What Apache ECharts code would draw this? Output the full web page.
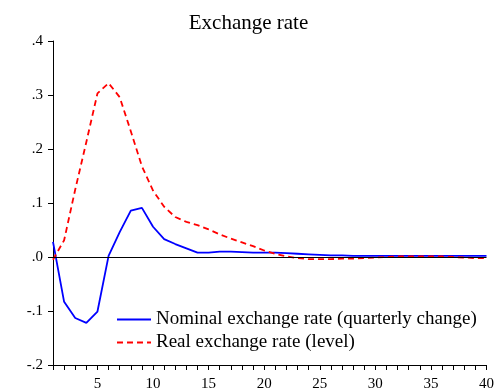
<!DOCTYPE html>
<html>
<head>
<meta charset="utf-8">
<title>Exchange rate</title>
<script src="https://cdn.jsdelivr.net/npm/echarts@6/dist/echarts.min.js"></script>
<style>
  html, body { margin: 0; padding: 0; background: #fff; }
  #chart { width: 497px; height: 392px; }
</style>
</head>
<body>
<div id="chart"></div>
<script>
// quarters 1..40
var quarters = [];
for (var q = 1; q <= 40; q++) quarters.push(q);

// nominal exchange rate (quarterly change)
var nominal = [0.028, -0.083, -0.113, -0.122, -0.101, 0.002, 0.046, 0.086, 0.091, 0.056,
               0.033, 0.024, 0.016, 0.008, 0.008, 0.010, 0.010, 0.009, 0.008, 0.008,
               0.008, 0.007, 0.006, 0.005, 0.004, 0.003, 0.003, 0.002, 0.002, 0.002,
               0.002, 0.002, 0.002, 0.002, 0.002, 0.002, 0.002, 0.002, 0.002, 0.002];

// real exchange rate (level)
var real = [-0.005, 0.031, 0.125, 0.213, 0.303, 0.322, 0.296, 0.233, 0.168, 0.123,
            0.093, 0.074, 0.065, 0.059, 0.051, 0.042, 0.034, 0.027, 0.020, 0.012,
            0.006, 0.001, -0.002, -0.004, -0.004, -0.004, -0.003, -0.003, -0.002, -0.001,
            0.000, 0.001, 0.001, 0.001, 0.001, 0.001, 0.000, -0.001, -0.002, -0.002];

var seriesNames = ['Nominal exchange rate (quarterly change)', 'Real exchange rate (level)'];

var serif = '"Liberation Serif", "Times New Roman", serif';

function pairs(ys) {
  return quarters.map(function (x, i) { return [x, ys[i]]; });
}

var chart = echarts.init(document.getElementById('chart'));
chart.setOption({
  animation: false,
  backgroundColor: '#fff',
  title: {
    text: 'Exchange rate',
    left: 'center',
    top: 8,
    textStyle: { fontFamily: serif, fontWeight: 'normal', fontSize: 21, color: '#000' }
  },
  legend: {
    orient: 'vertical',
    left: 111,
    top: 305,
    itemWidth: 34,
    itemHeight: 14,
    itemGap: 4,
    itemStyle: { opacity: 0 },
    textStyle: { fontFamily: serif, fontSize: 19, color: '#000' },
    data: seriesNames
  },
  grid: { left: 53, right: 10, top: 41, bottom: 27 },
  xAxis: {
    type: 'value',
    min: 1,
    max: 40,
    interval: 1,
    splitLine: { show: false },
    axisLine: { onZero: false, lineStyle: { color: '#000', width: 1 } },
    axisTick: { length: 5, lineStyle: { color: '#000' } },
    axisLabel: {
      margin: 12,
      fontFamily: serif, fontSize: 15, color: '#000',
      formatter: function (v) { return v % 5 === 0 ? String(v) : ''; }
    }
  },
  yAxis: {
    type: 'value',
    min: -0.2,
    max: 0.4,
    interval: 0.1,
    splitLine: { show: false },
    axisLine: { show: true, lineStyle: { color: '#000', width: 1 } },
    axisTick: { show: true, length: 5, lineStyle: { color: '#000' } },
    axisLabel: {
      margin: 10,
      fontFamily: serif, fontSize: 15, color: '#000',
      formatter: function (v) { return v.toFixed(1).replace('0.', '.'); }
    }
  },
  series: [
    {
      name: seriesNames[0],
      type: 'line',
      symbol: 'none',
      data: pairs(nominal),
      lineStyle: { color: '#0000ff', width: 1.8 },
      itemStyle: { color: '#0000ff' },
      z: 3,
      markLine: {
        silent: true,
        symbol: 'none',
        label: { show: false },
        lineStyle: { color: '#000', width: 1, type: 'solid' },
        data: [{ yAxis: 0 }]
      }
    },
    {
      name: seriesNames[1],
      type: 'line',
      symbol: 'none',
      data: pairs(real),
      lineStyle: { color: '#ff0000', width: 1.8, type: [6, 4] },
      itemStyle: { color: '#ff0000' },
      z: 4
    }
  ]
});
</script>
</body>
</html>
